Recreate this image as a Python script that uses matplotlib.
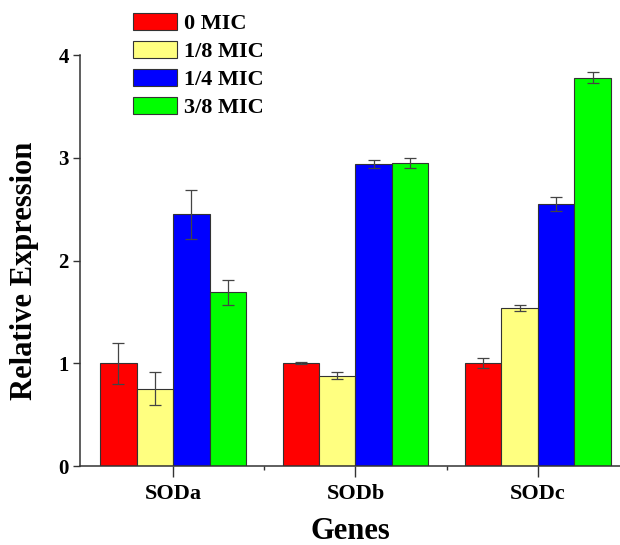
import matplotlib
matplotlib.use("Agg")
import matplotlib.pyplot as plt
import numpy as np

genes = ["SODa", "SODb", "SODc"]
doses = ["0 MIC", "1/8 MIC", "1/4 MIC", "3/8 MIC"]
colors = ["#ff0000", "#ffff80", "#0000ff", "#00ff00"]

# mean relative expression, one list per dose (SODa, SODb, SODc)
mic0 = [1.00, 1.00, 1.00]
mic18 = [0.75, 0.88, 1.54]
mic14 = [2.45, 2.94, 2.55]
mic38 = [1.69, 2.95, 3.78]
err0 = [0.20, 0.01, 0.05]
err18 = [0.16, 0.03, 0.03]
err14 = [0.24, 0.04, 0.07]
err38 = [0.12, 0.05, 0.05]

means = [mic0, mic18, mic14, mic38]
errs = [err0, err18, err14, err38]

plt.rcParams["font.family"] = ["Liberation Serif", "DejaVu Serif"]
plt.rcParams["font.weight"] = "bold"

fig = plt.figure(figsize=(6.2, 5.45), dpi=100)
ax = fig.add_axes([80 / 620, 79 / 545, 540 / 620, 411 / 545])

x = np.arange(1, len(genes) + 1)
w = 0.2
for i in range(4):
    ax.bar(x + (i - 1.5) * w, means[i], w, color=colors[i], edgecolor="#333333",
           linewidth=0.8, label=doses[i], zorder=2)
    ax.errorbar(x + (i - 1.5) * w, means[i], yerr=errs[i], fmt="none",
                ecolor="#444444", elinewidth=0.9, capsize=4, capthick=0.9, zorder=3)

ax.set_xlim(0.49, 3.45)
ax.set_ylim(0, 4)
ax.set_xticks(x)
ax.set_xticklabels(genes, fontsize=16, fontweight="bold")
ax.set_xticks([1.5, 2.5], minor=True)
ax.set_yticks([0, 1, 2, 3, 4])
ax.set_yticklabels(["0", "1", "2", "3", "4"], fontsize=15, fontweight="bold")
ax.tick_params(axis="x", which="major", length=8, width=1, color="#333333", pad=5)
ax.tick_params(axis="x", which="minor", length=3, width=1, color="#333333")
ax.tick_params(axis="y", length=5, width=1, color="#333333", pad=3)

for s in ["top", "right"]:
    ax.spines[s].set_visible(False)
for s in ["left", "bottom"]:
    ax.spines[s].set_color("#333333")
    ax.spines[s].set_linewidth(1.1)

ax.set_ylabel("Relative Expression", fontsize=22, fontweight="bold")
ax.yaxis.set_label_coords(-0.076, 0.474)
ax.set_xlabel("Genes", fontsize=22, fontweight="bold", labelpad=9)

fig.legend(loc="upper left", bbox_to_anchor=(133 / 620, 1 - 13 / 545),
           frameon=False, prop={"weight": "bold", "size": 16},
           handlelength=2.0, handleheight=0.82, labelspacing=0.3,
           handletextpad=0.3, borderpad=0, borderaxespad=0)

fig.savefig("out.png", dpi=100)
